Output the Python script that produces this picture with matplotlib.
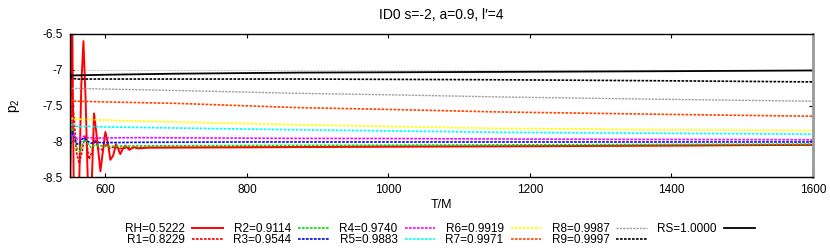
import matplotlib
matplotlib.use("Agg")
import matplotlib.pyplot as plt
from matplotlib.ticker import FormatStrFormatter

plt.rcParams["font.family"] = ["Liberation Sans", "DejaVu Sans"]
plt.rcParams["mathtext.fontset"] = "custom"
plt.rcParams["mathtext.rm"] = "Liberation Sans"
plt.rcParams["mathtext.it"] = "Liberation Sans"
plt.rcParams["axes.unicode_minus"] = False

# ── Data (T/M, p2) ────────────────────────────────────────────────────────────
T_RH = [550, 552.5, 556, 559, 563, 566, 569, 572, 575, 578, 581, 584, 588, 593,
        597, 600, 604, 607, 611, 615, 618, 621, 625, 628, 631, 634, 640, 646,
        660, 800, 1000, 1200, 1400, 1600]
P_RH = [-9.2, -5.6, -9.5, -10.4, -8.6, -7.2, -6.60, -7.4, -8.5, -9.2, -8.5, -7.61,
        -7.95, -8.42, -8.1, -7.87, -8.05, -8.26, -8.2, -8.04, -8.1, -8.18, -8.1,
        -8.06, -8.09, -8.12, -8.08, -8.10, -8.09, -8.085, -8.075, -8.07, -8.06, -8.05]

T_R1 = [550, 552, 554, 556, 559, 563, 567, 571, 574, 577, 581, 585, 590, 595,
        600, 606, 612, 620, 650, 800, 1000, 1200, 1400, 1600]
P_R1 = [-8.5, -7.7, -7.49, -7.7, -8.15, -8.31, -8.15, -7.92, -8.05, -8.25, -8.15,
        -7.98, -8.1, -8.12, -8.04, -8.1, -8.08, -8.1, -8.085, -8.08, -8.075,
        -8.065, -8.06, -8.05]

T_R2 = [550, 552, 553.5, 556, 560, 564, 568, 571, 575, 580, 585, 590, 600, 650,
        800, 1000, 1200, 1400, 1600]
P_R2 = [-8.35, -7.95, -7.83, -7.95, -8.1, -8.15, -8.02, -7.97, -8.03, -8.09, -8.05,
        -8.06, -8.07, -8.065, -8.06, -8.055, -8.05, -8.045, -8.04]

T_R3 = [550, 552, 553.5, 556, 560, 564, 567, 570, 574, 579, 585, 595, 650, 800,
        1200, 1600]
P_R3 = [-8.15, -7.92, -7.87, -7.95, -8.04, -8.03, -7.97, -7.95, -7.99, -8.03,
        -8.01, -8.02, -8.015, -8.01, -8.01, -8.01]

T_R4 = [550, 552, 554, 557, 561, 566, 570, 575, 585, 650, 874, 1000, 1200, 1400, 1600]
P_R4 = [-8.05, -7.92, -7.90, -7.94, -7.97, -7.94, -7.93, -7.95, -7.955, -7.95,
        -7.96, -7.962, -7.97, -7.975, -7.98]

T_R5 = [550, 552, 554, 557, 562, 570, 600, 700, 874, 1000, 1155, 1400, 1600]
P_R5 = [-7.9, -7.76, -7.75, -7.78, -7.80, -7.79, -7.80, -7.815, -7.84, -7.855,
        -7.875, -7.89, -7.90]

T_R6 = [550, 552, 554, 560, 650, 874, 1155, 1400, 1600]
P_R6 = [-7.75, -7.69, -7.68, -7.69, -7.72, -7.77, -7.82, -7.84, -7.85]

T_R7 = [550, 553, 556, 600, 700, 874, 1000, 1155, 1400, 1600]
P_R7 = [-7.5, -7.42, -7.44, -7.45, -7.47, -7.53, -7.555, -7.59, -7.625, -7.65]

T_R8 = [550, 553, 600, 700, 874, 1000, 1155, 1400, 1600]
P_R8 = [-7.3, -7.26, -7.27, -7.29, -7.33, -7.35, -7.38, -7.415, -7.44]

T_R9 = [550, 553, 560, 874, 1155, 1400, 1600]
P_R9 = [-7.1, -7.12, -7.13, -7.13, -7.14, -7.155, -7.17]

T_RS = [550, 552, 600, 700, 874, 1155, 1400, 1600]
P_RS = [-7.12, -7.08, -7.07, -7.055, -7.04, -7.03, -7.02, -7.01]

P_REF = -7.0  # faint reference level

SERIES = [
    ("RH=0.5222", T_RH, P_RH, "#ff0000", "-", 1.4),
    ("R1=0.8229", T_R1, P_R1, "#ff0000", "dot", 1.2),
    ("R2=0.9114", T_R2, P_R2, "#00e000", "dot", 1.2),
    ("R3=0.9544", T_R3, P_R3, "#0000ff", "dot", 1.2),
    ("R4=0.9740", T_R4, P_R4, "#ff00ff", "dot", 1.2),
    ("R5=0.9883", T_R5, P_R5, "#00ffff", "dot", 1.2),
    ("R6=0.9919", T_R6, P_R6, "#ffff00", "dot", 1.2),
    ("R7=0.9971", T_R7, P_R7, "#ff4500", "dot", 1.2),
    ("R8=0.9987", T_R8, P_R8, "#a0a0a0", "dot", 1.0),
    ("R9=0.9997", T_R9, P_R9, "#000000", "dot", 1.2),
    ("RS=1.0000", T_RS, P_RS, "#000000", "-", 1.3),
]

fig = plt.figure(figsize=(8.3, 2.49), dpi=100)
ax = fig.add_axes([70 / 830, 1 - 177 / 249, 743 / 830, 143 / 249])

ax.axhline(P_REF, color="#cccccc", linewidth=0.8, linestyle=(0, (2, 1)), zorder=1)

for label, t, p, color, style, lw in SERIES:
    ls = (0, (1.6, 0.8)) if style == "dot" else "-"
    ax.plot(t, p, color=color, linestyle=ls, linewidth=lw, label=label, zorder=2)

ax.set_xlim(550, 1600)
ax.set_ylim(-8.5, -6.5)
ax.set_xticks([600, 800, 1000, 1200, 1400, 1600])
ax.set_yticks([-8.5, -8, -7.5, -7, -6.5])
ax.yaxis.set_major_formatter(FormatStrFormatter("%g"))
ax.tick_params(direction="in", length=3, width=0.8, labelsize=8.5,
               top=True, right=True, pad=5)
for side in ("left", "top", "bottom"):
    ax.spines[side].set_linewidth(1.0)
ax.spines["right"].set_color("#999999")
ax.spines["right"].set_linewidth(2.0)

ax.set_title("ID0 s=-2, a=0.9, l\u2032=4", fontsize=10, pad=11)
ax.set_xlabel("T/M", fontsize=9)
ax.xaxis.set_label_coords(0.5, -0.155)
ax.set_ylabel("p$_2$", fontsize=10)
ax.yaxis.set_label_coords(-0.065, 0.5)

fig.legend(loc="center", bbox_to_anchor=(440 / 830, 1 - 234.5 / 249), ncol=6,
           frameon=False, fontsize=8.5, markerfirst=False, handlelength=2.6,
           handletextpad=0.6, columnspacing=0.86, labelspacing=-0.1,
           borderpad=0)

fig.savefig("out.png", dpi=100)
